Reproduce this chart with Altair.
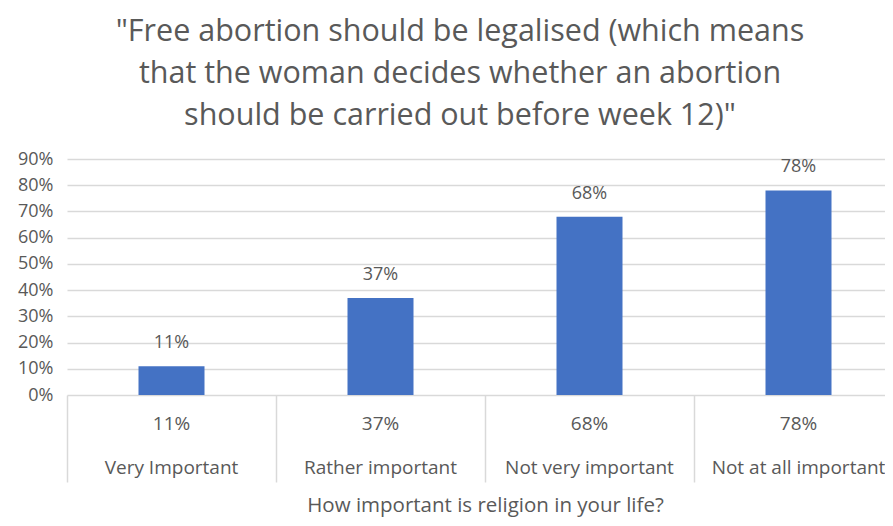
import altair as alt
import pandas as pd

categories = ["Very Important", "Rather important", "Not very important", "Not at all important"]
values = [0.11, 0.37, 0.68, 0.78]
title_lines = [
    '"Free abortion should be legalised (which means',
    'that the woman decides whether an abortion',
    'should be carried out before week 12)"',
]
x_title = "How important is religion in your life?"
y_ticks = [0.0, 0.1, 0.2, 0.3, 0.4, 0.5, 0.6, 0.7, 0.8, 0.9]

df = pd.DataFrame({"category": categories, "value": values})

FONT = "Open Sans"
TXT = "#595959"
GRID = "#D9D9D9"
BAR = "#4472C4"
H = 236

xenc = alt.X(
    "category:N",
    sort=categories,
    scale=alt.Scale(range=[0, 836], paddingInner=0, paddingOuter=0),
    axis=alt.Axis(
        title=x_title,
        labels=False,
        domain=False,
        ticks=True,
        tickSize=87,
        tickColor=GRID,
        tickWidth=1.5,
        bandPosition=0,
        titleFont=FONT,
        titleFontSize=20.5,
        titleColor=TXT,
        titleFontWeight="normal",
        titlePadding=13,
    ),
)

yenc = alt.Y(
    "value:Q",
    scale=alt.Scale(domain=[0, 0.9]),
    axis=alt.Axis(
        title=None,
        values=y_ticks,
        format=".0%",
        labelOverlap=False,
        domain=False,
        ticks=False,
        grid=True,
        gridColor=GRID,
        gridWidth=1.5,
        labelFont=FONT,
        labelFontSize=18,
        labelColor=TXT,
        labelPadding=14,
    ),
)

bars = alt.Chart(df).mark_bar(color=BAR, size=66).encode(x=xenc, y=yenc)

bar_labels = alt.Chart(df).mark_text(
    font=FONT, fontSize=18, color=TXT, baseline="middle", dy=-23
).encode(
    x=alt.X("category:N", sort=categories),
    y=yenc,
    text=alt.Text("value:Q", format=".0%"),
)

row_values = alt.Chart(df).mark_text(
    font=FONT, fontSize=19, color=TXT, baseline="middle"
).encode(
    x=alt.X("category:N", sort=categories),
    y=alt.value(H + 29),
    text=alt.Text("value:Q", format=".0%"),
)

row_cats = alt.Chart(df).mark_text(
    font=FONT, fontSize=19, color=TXT, baseline="middle"
).encode(
    x=alt.X("category:N", sort=categories),
    y=alt.value(H + 73),
    text="category:N",
)

chart = (
    alt.layer(bars, bar_labels, row_values, row_cats)
    .properties(
        width=818,
        height=H,
        autosize=alt.AutoSizeParams(type="none"),
        padding={"left": 59, "top": 151, "right": 0, "bottom": 123},
        title=alt.TitleParams(
            text=title_lines,
            font=FONT,
            fontSize=30.5,
            fontWeight="normal",
            color=TXT,
            lineHeight=42,
            anchor="middle",
            dx=-16,
            offset=19,
        ),
    )
    .configure_view(stroke=None)
)

chart.save("out.html", embed_options={"renderer": "svg", "actions": False})
